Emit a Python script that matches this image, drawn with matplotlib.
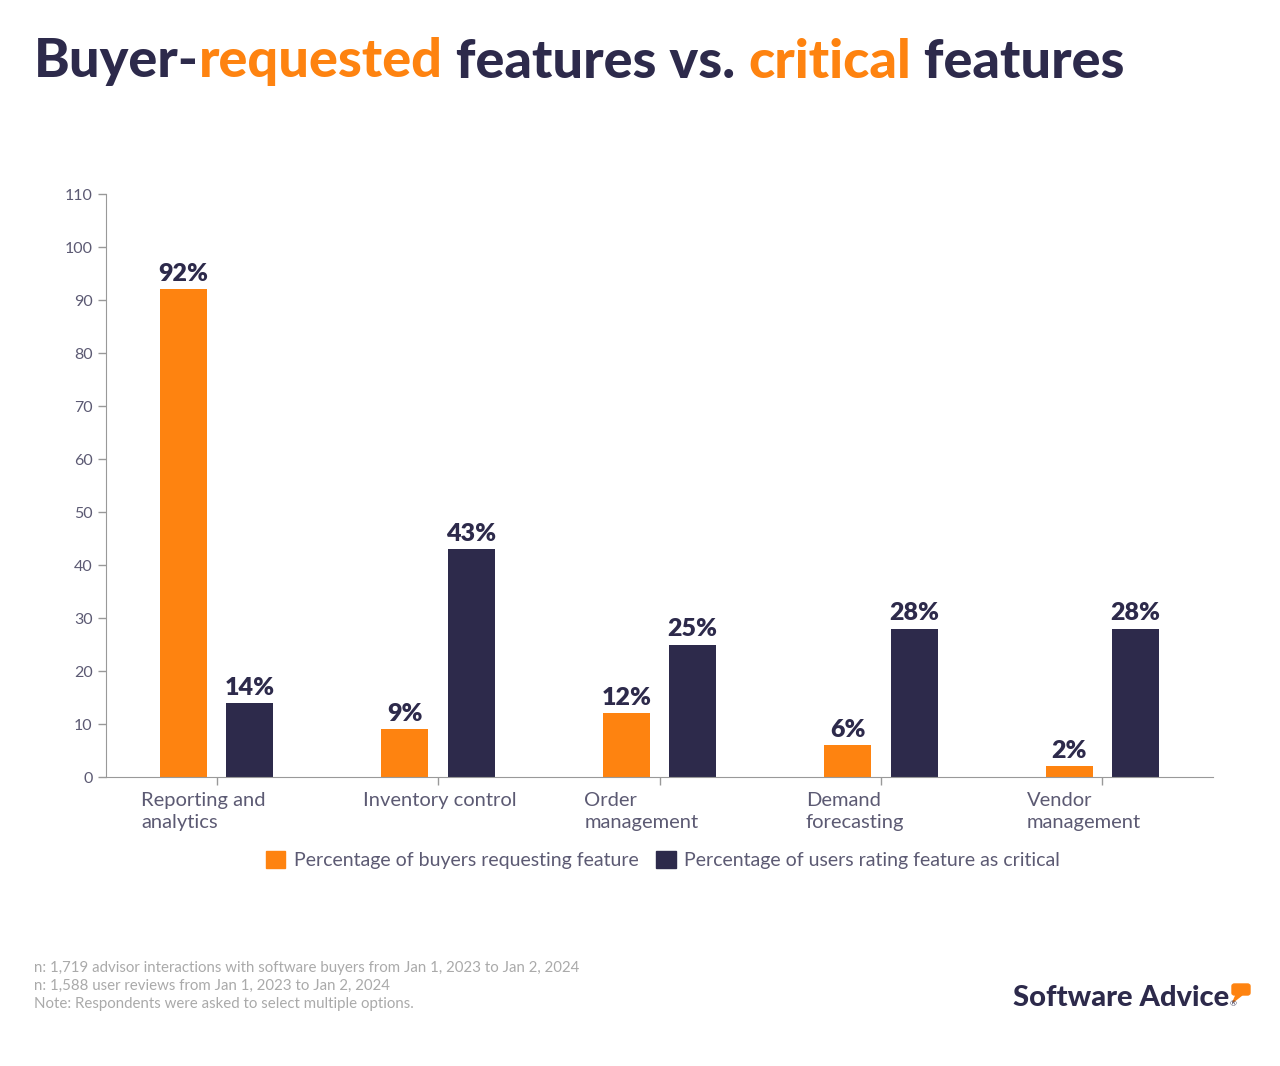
import numpy as np
import matplotlib
matplotlib.use('Agg')
import matplotlib.pyplot as plt
from matplotlib.patches import Patch, FancyBboxPatch, Polygon
import matplotlib.transforms as mtransforms

plt.rcParams['font.family'] = ['Lato', 'DejaVu Sans']

# 数据
categories = ['Reporting and\nanalytics', 'Inventory control', 'Order\nmanagement',
              'Demand\nforecasting', 'Vendor\nmanagement']
buyers_pct = [92, 9, 12, 6, 2]
critical_pct = [14, 43, 25, 28, 28]
series_names = ['Percentage of buyers requesting feature',
                'Percentage of users rating feature as critical']
yticks = [0, 10, 20, 30, 40, 50, 60, 70, 80, 90, 100, 110]
footnotes = ['n: 1,719 advisor interactions with software buyers from Jan 1, 2023 to Jan 2, 2024',
             'n: 1,588 user reviews from Jan 1, 2023 to Jan 2, 2024',
             'Note: Respondents were asked to select multiple options.']

ORANGE = '#FE8310'
NAVY = '#2D2A4B'
TICK_COLOR = '#5C5A73'

fig = plt.figure(figsize=(12.8, 10.66), dpi=100)
ax = fig.add_axes([0.0828, 0.2711, 0.8649, 0.5469])

x = np.arange(len(categories))
w = 0.212
off = 0.15
b1 = ax.bar(x - off, buyers_pct, w, color=ORANGE)
b2 = ax.bar(x + off, critical_pct, w, color=NAVY)

for bars, vals in [(b1, buyers_pct), (b2, critical_pct)]:
    for b, v in zip(bars, vals):
        ax.annotate(f'{v}%', (b.get_x() + b.get_width() / 2, v),
                    xytext=(0, 3), textcoords='offset points',
                    ha='center', va='bottom', fontsize=18, fontweight='heavy', color=NAVY)

ax.set_xlim(-0.5, len(categories) - 0.5)
ax.set_ylim(0, 110)
ax.set_yticks(yticks)
ax.tick_params(axis='y', labelsize=11.5, colors='#999999', labelcolor=TICK_COLOR, length=6, width=1)
ax.set_xticks(x)
ax.set_xticklabels([])
ax.tick_params(axis='x', length=6, colors='#999999', width=1)
for s in ['top', 'right']:
    ax.spines[s].set_visible(False)
for s in ['left', 'bottom']:
    ax.spines[s].set_color('#999999')

# 类别标签，左对齐
trans = mtransforms.blended_transform_factory(ax.transData, ax.transAxes)
for i, lab in enumerate(categories):
    ax.text(i - 0.34, -0.025, lab, transform=trans, ha='left', va='top',
            fontsize=14.5, color=TICK_COLOR, linespacing=1.4)

# 图例
handles = [Patch(color=ORANGE), Patch(color=NAVY)]
fig.legend(handles, series_names, loc='center', bbox_to_anchor=(0.518, 1 - 860 / 1066),
           ncol=2, frameon=False, fontsize=14, handlelength=1.0, handleheight=1.0,
           handletextpad=0.45, columnspacing=0.9, labelcolor=TICK_COLOR)

# 标题，分段着色
parts = [('Buyer-', NAVY), ('requested', ORANGE), (' features vs. ', NAVY),
         ('critical', ORANGE), (' features', NAVY)]
renderer = fig.canvas.get_renderer()
xpos = 34 / 1280
for txt, col in parts:
    t = fig.text(xpos, 1 - 62 / 1066, txt, fontsize=39, fontweight='black', color=col,
                 ha='left', va='center')
    bb = t.get_window_extent(renderer=renderer)
    xpos = bb.x1 / fig.bbox.width

# 脚注
for i, line in enumerate(footnotes):
    fig.text(34 / 1280, 1 - (968 + i * 18) / 1066, line, fontsize=10.8, color='#AAAAAA',
             ha='left', va='center')

# Logo
logo = fig.text(1013 / 1280, 1 - 998 / 1066, 'Software Advice', fontsize=21, fontweight='black',
                color=NAVY, ha='left', va='center')
lb = logo.get_window_extent(renderer=renderer)
fig.text(lb.x1 / fig.bbox.width, 1 - 1004 / 1066, '®', fontsize=6, color=NAVY,
         ha='left', va='center')
bub = FancyBboxPatch((1232 / 1280, 1 - 995 / 1066), 18 / 1280, 11 / 1066,
                     boxstyle='round,pad=0.0,rounding_size=0.002', transform=fig.transFigure,
                     color=ORANGE)
fig.patches.append(bub)
tri = Polygon([(1236 / 1280, 1 - 995 / 1066), (1242 / 1280, 1 - 995 / 1066),
               (1233 / 1280, 1 - 1002 / 1066)], closed=True, transform=fig.transFigure,
              color=ORANGE)
fig.patches.append(tri)

fig.savefig('out.png', dpi=100)
